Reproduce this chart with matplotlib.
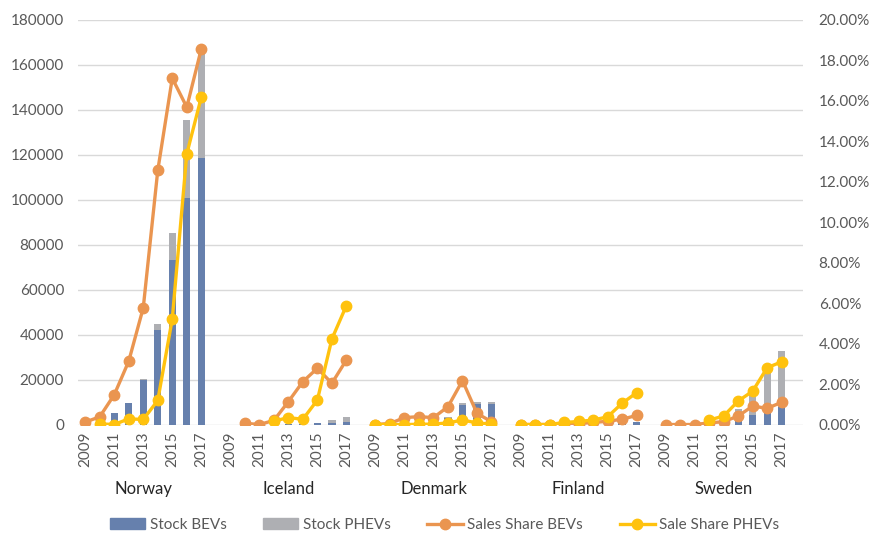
import numpy as np
import matplotlib
matplotlib.use("Agg")
import matplotlib.pyplot as plt
from matplotlib.patches import Patch
from matplotlib.lines import Line2D
from matplotlib.transforms import blended_transform_factory

plt.rcParams['font.family'] = ['Lato', 'DejaVu Sans']

# --- data ---
countries = ['Norway', 'Iceland', 'Denmark', 'Finland', 'Sweden']
years = [2009, 2010, 2011, 2012, 2013, 2014, 2015, 2016, 2017]
nan = np.nan

stock_bev = {
    'Norway':  [2500, 3300, 5000, 9500, 20000, 42200, 73000, 101000, 118400],
    'Iceland': [0, 0, 10, 20, 100, 200, 530, 800, 1250],
    'Denmark': [100, 300, 800, 1100, 1500, 2700, 8700, 9100, 9100],
    'Finland': [0, 0, 50, 100, 200, 300, 500, 600, 900],
    'Sweden':  [0, 0, 200, 500, 1500, 3000, 4300, 5000, 7600],
}
stock_phev = {
    'Norway':  [0, 0, 0, 0, 300, 2700, 12200, 34300, 47600],
    'Iceland': [0, 0, 0, 0, 10, 100, 100, 1200, 2200],
    'Denmark': [0, 0, 0, 0, 100, 500, 1000, 1050, 1050],
    'Finland': [0, 0, 0, 0, 50, 100, 200, 300, 400],
    'Sweden':  [0, 0, 0, 0, 800, 3700, 9500, 20000, 25200],
}
# sales shares in percent
share_bev = {
    'Norway':  [0.12, 0.38, 1.47, 3.13, 5.77, 12.56, 17.12, 15.69, 18.57],
    'Iceland': [nan, 0.06, 0.0, 0.20, 1.13, 2.12, 2.78, 2.04, 3.19],
    'Denmark': [0.0, 0.05, 0.34, 0.39, 0.34, 0.88, 2.17, 0.55, 0.14],
    'Finland': [0.0, 0.0, 0.0, 0.02, 0.05, 0.10, 0.16, 0.26, 0.45],
    'Sweden':  [0.0, 0.0, 0.0, 0.08, 0.14, 0.42, 0.91, 0.80, 1.10],
}
share_phev = {
    'Norway':  [nan, 0.03, 0.0, 0.28, 0.25, 1.19, 5.22, 13.38, 16.18],
    'Iceland': [nan, nan, nan, 0.17, 0.34, 0.26, 1.21, 4.23, 5.88],
    'Denmark': [0.0, 0.0, 0.0, 0.01, 0.02, 0.08, 0.22, 0.08, 0.02],
    'Finland': [0.0, 0.0, 0.0, 0.10, 0.15, 0.22, 0.38, 1.05, 1.57],
    'Sweden':  [nan, nan, nan, 0.22, 0.42, 1.16, 1.65, 2.81, 3.10],
}

c_bev = '#6680AD'
c_phev = '#AEAFB3'
c_sbev = '#EA9550'
c_sphev = '#FFC20E'
txt = '#595959'

# flatten groups, one empty slot after every country
n = len(years)
def flat(d):
    out = []
    for c in countries:
        out += list(d[c])
        out.append(nan)
    return np.array(out, dtype=float)

bev = flat(stock_bev)
phev = flat(stock_phev)
sbev = flat(share_bev)
sphev = flat(share_phev)
x = np.arange(len(bev))

fig = plt.figure(figsize=(8.72, 5.36), dpi=100)
ax = fig.add_axes([0.0894, 0.208, 0.832, 0.7547])
ax2 = ax.twinx()

ax.bar(x, np.nan_to_num(bev), width=0.5, color=c_bev, zorder=2)
ax.bar(x, np.nan_to_num(phev), width=0.5, bottom=np.nan_to_num(bev), color=c_phev, zorder=2)

ax2.plot(x, sbev, color=c_sbev, lw=2.4, marker='o', ms=7.5, zorder=3)
ax2.plot(x, sphev, color=c_sphev, lw=2.4, marker='o', ms=7.5, zorder=4)

ax.set_xlim(-0.5, len(x) - 0.5)
ax.set_ylim(0, 180000)
ax.set_yticks(np.arange(0, 180001, 20000))
ax2.set_ylim(0, 20)
ax2.set_yticks(np.arange(0, 20.1, 2))
ax2.set_yticklabels([f'{v:.2f}%' for v in np.arange(0, 20.1, 2)])

ax.grid(axis='y', color='#D9D9D9', lw=1, zorder=0)
ax.set_axisbelow(True)
for a in (ax, ax2):
    for s in a.spines.values():
        s.set_visible(False)
    a.tick_params(length=0, colors=txt, labelsize=11)
ax.tick_params(axis='y', pad=10)
ax2.tick_params(axis='y', pad=11)

# year ticks: odd years only
ticks, labels = [], []
for i, c in enumerate(countries):
    for j, yr in enumerate(years):
        if yr % 2 == 1:
            ticks.append(i * (n + 1) + j)
            labels.append(str(yr))
ax.set_xticks(ticks)
ax.set_xticklabels(labels, rotation=90)
ax.tick_params(axis='x', pad=5)

trans = blended_transform_factory(ax.transData, ax.transAxes)
for i, c in enumerate(countries):
    ax.text(i * (n + 1) + (n - 1) / 2, -0.16, c, transform=trans,
            ha='center', va='center', fontsize=12, color='#262626')

handles = [
    Patch(color=c_bev),
    Patch(color=c_phev),
    Line2D([], [], color=c_sbev, lw=2.4, marker='o', ms=7.5),
    Line2D([], [], color=c_sphev, lw=2.4, marker='o', ms=7.5),
]
names = ['Stock BEVs', 'Stock PHEVs', 'Sales Share BEVs', 'Sale Share PHEVs']
leg = fig.legend(handles, names, loc='lower center', bbox_to_anchor=(0.51, -0.018),
                 ncol=4, frameon=False, fontsize=11, handlelength=2.3,
                 handletextpad=0.3, columnspacing=2.4)
for t in leg.get_texts():
    t.set_color(txt)

fig.savefig('out.png', dpi=100)
